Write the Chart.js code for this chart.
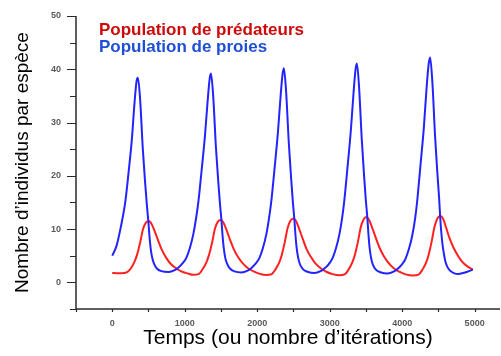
<!DOCTYPE html>
<html>
<head>
<meta charset="utf-8">
<script src="https://cdn.jsdelivr.net/npm/chart.js@4"></script>
<style>
html,body{margin:0;padding:0;background:#fff;}
canvas{display:block;}
</style>
</head>
<body>
<canvas id="c" width="501" height="356"></canvas>
<script>
// ---- Data ----
const seriesNames = ["Population de prédateurs", "Population de proies"];
const xTitle = "Temps (ou nombre d\u2019itérations)";
const yTitle = "Nombre d\u2019individus par espèce";

// prey (blue) : time and value
const tPrey = [
0, 60, 120, 182, 225, 271, 308, 336, 354,
384, 422, 454, 478, 499, 514, 530, 550, 576, 616, 679, 777,
862, 915, 972, 1022, 1072, 1121, 1162, 1190, 1233, 1279, 1316, 1344, 1362,
1392, 1430, 1462, 1486, 1507, 1522, 1538, 1558, 1584, 1624, 1687, 1782,
1868, 1921, 1978, 2028, 2078, 2127, 2168, 2196, 2239, 2285, 2322, 2350, 2368,
2398, 2436, 2468, 2492, 2513, 2528, 2544, 2564, 2590, 2630, 2693, 2790,
2875, 2928, 2985, 3035, 3085, 3134, 3175, 3203, 3246, 3292, 3329, 3357, 3375,
3405, 3443, 3475, 3499, 3520, 3535, 3551, 3571, 3597, 3637, 3700, 3797,
3882, 3935, 3992, 4042, 4092, 4141, 4182, 4210, 4253, 4299, 4336, 4366, 4386,
4416, 4454, 4486, 4510, 4524, 4540, 4556, 4572, 4595, 4620, 4660, 4720, 4777, 4840, 4900, 4975
];
const prey = [
5.0, 6.9, 10.5, 15.3, 20.6, 26.9, 33.8, 37.8, 38.4,
34.5, 25.0, 18.7, 14.5, 11.3, 8.6, 6.4, 4.7, 3.5, 2.6, 2.1, 1.95,
2.3, 2.8, 3.6, 4.6, 6.5, 9.2, 12.5, 15.3, 21.0, 27.5, 34.0, 38.2, 39.2,
35.2, 25.5, 19.1, 14.8, 11.6, 8.8, 6.5, 4.7, 3.5, 2.6, 2.05, 1.85,
2.2, 2.7, 3.5, 4.5, 6.4, 9.1, 12.5, 15.4, 21.3, 28.0, 34.8, 39.1, 40.2,
36.0, 26.2, 19.6, 15.1, 11.8, 8.9, 6.5, 4.7, 3.4, 2.5, 2.0, 1.75,
2.1, 2.6, 3.4, 4.4, 6.3, 9.0, 12.4, 15.5, 21.6, 28.5, 35.5, 40.0, 41.1,
36.8, 26.8, 20.0, 15.4, 12.1, 9.0, 6.5, 4.6, 3.3, 2.4, 1.9, 1.65,
2.0, 2.5, 3.3, 4.3, 6.2, 8.9, 12.3, 15.6, 22.0, 29.0, 36.3, 41.0, 42.2,
37.8, 27.5, 20.5, 15.8, 12.4, 9.4, 7.2, 5.7, 4.0, 3.0, 2.2, 1.7, 1.57, 1.75, 2.0, 2.4
];

// predators (red) : time and value
const tPred = [
0, 60, 125, 205, 255, 305, 345, 385, 425, 465, 505, 545, 585, 635, 685, 745, 805, 885, 965, 1045, 1118,
1198, 1248, 1298, 1338, 1378, 1418, 1458, 1498, 1538, 1578, 1628, 1678, 1738, 1798, 1878, 1958, 2038, 2120,
2200, 2250, 2300, 2340, 2380, 2420, 2460, 2500, 2540, 2580, 2630, 2680, 2740, 2800, 2880, 2960, 3040, 3128,
3208, 3258, 3308, 3348, 3388, 3428, 3468, 3508, 3548, 3588, 3638, 3688, 3748, 3808, 3888, 3968, 4048, 4146,
4226, 4276, 4326, 4366, 4406, 4446, 4486, 4526, 4566, 4606, 4656, 4706, 4766, 4826, 4900, 4975
];
const pred = [
1.75, 1.71, 1.7, 1.9, 2.6, 3.8, 5.3, 7.5, 10.0, 11.2, 11.5, 10.9, 9.6, 7.8, 6.1, 4.6, 3.5, 2.6, 2.0, 1.65, 1.42,
1.6, 2.5, 3.7, 5.3, 7.5, 10.1, 11.4, 11.7, 11.1, 9.8, 7.9, 6.2, 4.7, 3.6, 2.6, 2.0, 1.6, 1.38,
1.55, 2.4, 3.6, 5.2, 7.5, 10.2, 11.6, 12.0, 11.4, 10.0, 8.1, 6.3, 4.8, 3.6, 2.6, 1.95, 1.55, 1.33,
1.5, 2.35, 3.6, 5.2, 7.5, 10.3, 11.8, 12.25, 11.6, 10.2, 8.3, 6.5, 4.9, 3.7, 2.6, 1.95, 1.5, 1.28,
1.45, 2.3, 3.55, 5.2, 7.6, 10.4, 12.0, 12.45, 11.9, 10.3, 8.2, 6.6, 5.1, 3.9, 3.0, 2.4
];

// tick positions and labels
const xTickValues = [-500, 0, 500, 1000, 1500, 2000, 2500, 3000, 3500, 4000, 4500, 5000];
const xTickLabels = ["0", "1000", "2000", "3000", "4000", "5000"];
const yTickValues = [-5, 0, 5, 10, 15, 20, 25, 30, 35, 40, 45, 50];
const yTickLabels = ["0", "10", "20", "30", "40", "50"];

// ---- build ----
const toPts = (ts, vs) => ts.map((t, i) => ({x: t, y: vs[i]}));
const FONT = '"Liberation Sans", Arial, sans-serif';
const pickLabel = (list, v) => {
  const s = String(Math.round(Number(v)));
  return list.includes(s) ? s : '';
};
const setTicks = (values, labels) => (s) => {
  s.ticks = values.map(v => ({value: v, label: pickLabel(labels, v)}));
};

const axisPlugin = {
  id: 'axisPlugin',
  beforeDatasetsDraw(chart) {
    const {ctx, chartArea: a, scales: {x, y}} = chart;
    ctx.save();
    ctx.strokeStyle = '#2b2b2b';
    ctx.lineWidth = 1.5;
    ctx.beginPath();
    ctx.moveTo(a.left, y.getPixelForValue(50));
    ctx.lineTo(a.left, a.bottom);
    ctx.lineTo(a.right, a.bottom);
    ctx.stroke();
    ctx.lineWidth = 1.2;
    ctx.beginPath();
    y.ticks.forEach(t => {
      const py = Math.round(y.getPixelForValue(t.value)) + 0.5;
      const len = (t.value % 10 === 0) ? 9 : 6;
      ctx.moveTo(a.left - len, py);
      ctx.lineTo(a.left, py);
    });
    x.ticks.forEach(t => {
      const px = Math.round(x.getPixelForValue(t.value)) + 0.5;
      ctx.moveTo(px, a.bottom);
      ctx.lineTo(px, a.bottom + 3);
    });
    ctx.stroke();
    ctx.restore();
  },
  afterDraw(chart) {
    const {ctx} = chart;
    ctx.save();
    ctx.font = 'bold 17px ' + FONT;
    ctx.textAlign = 'left';
    ctx.textBaseline = 'alphabetic';
    ctx.fillStyle = '#cc0a0a';
    ctx.fillText(seriesNames[0], 99, 35);
    ctx.fillStyle = '#1f4fd6';
    ctx.fillText(seriesNames[1], 99, 52);
    ctx.restore();
  }
};

new Chart(document.getElementById('c'), {
  type: 'line',
  data: {
    datasets: [
      {
        label: seriesNames[1],
        data: toPts(tPrey, prey),
        borderColor: '#2323ff',
        borderWidth: 2,
        pointRadius: 0,
        fill: false,
        cubicInterpolationMode: 'monotone'
      },
      {
        label: seriesNames[0],
        data: toPts(tPred, pred),
        borderColor: '#ff2020',
        borderWidth: 2,
        pointRadius: 0,
        fill: false,
        cubicInterpolationMode: 'monotone'
      }
    ]
  },
  options: {
    responsive: false,
    animation: false,
    devicePixelRatio: 1,
    layout: {padding: {top: 16, right: 1, left: 0, bottom: 0}},
    plugins: {legend: {display: false}, tooltip: {enabled: false}},
    scales: {
      x: {
        type: 'linear',
        min: -500,
        max: 5350,
        afterBuildTicks: setTicks(xTickValues, xTickLabels),
        afterTickToLabelConversion: setTicks(xTickValues, xTickLabels),
        afterFit(s) { s.height = 47; s.paddingLeft = 0; s.paddingRight = 0; },
        grid: {display: false, drawTicks: false},
        border: {display: false},
        ticks: {
          autoSkip: false,
          maxRotation: 0,
          padding: 9,
          color: '#5a5a5a',
          font: {size: 9, weight: 'bold', family: FONT}
        },
        title: {
          display: true,
          text: xTitle,
          color: '#000',
          font: {size: 21, family: FONT},
          padding: {top: 0, bottom: 5}
        }
      },
      y: {
        min: -5,
        max: 50,
        afterBuildTicks: setTicks(yTickValues, yTickLabels),
        afterTickToLabelConversion: setTicks(yTickValues, yTickLabels),
        afterFit(s) { s.width = 76; s.paddingTop = 0; s.paddingBottom = 0; },
        grid: {display: false, drawTicks: false},
        border: {display: false},
        ticks: {
          autoSkip: false,
          padding: 15,
          color: '#5a5a5a',
          font: {size: 9, weight: 'bold', family: FONT}
        },
        title: {
          display: true,
          text: yTitle,
          color: '#000',
          font: {size: 19, family: FONT},
          padding: {top: 11, bottom: 0}
        }
      }
    }
  },
  plugins: [axisPlugin]
});
</script>
</body>
</html>
